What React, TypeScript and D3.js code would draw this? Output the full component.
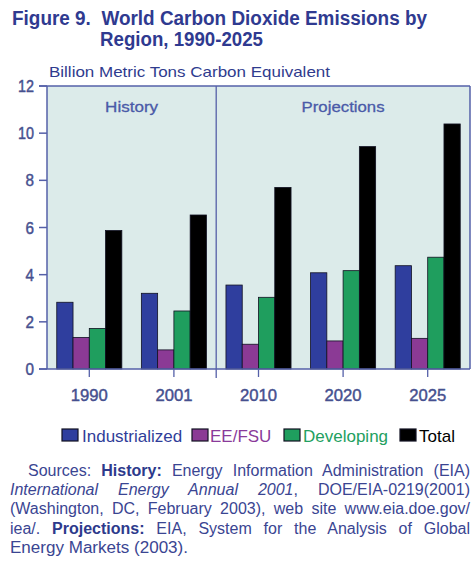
import React, { useEffect, useRef } from 'react';
import * as d3 from 'd3';

const years = ['1990', '2001', '2010', '2020', '2025'];
const seriesNames = ['Industrialized', 'EE/FSU', 'Developing', 'Total'];
const industrialized = [2.83, 3.21, 3.56, 4.08, 4.38];
const eeFsu = [1.34, 0.81, 1.05, 1.19, 1.3];
const developing = [1.72, 2.46, 3.04, 4.17, 4.74];
const total = [5.87, 6.53, 7.7, 9.43, 10.39];
const yTicks = [0, 2, 4, 6, 8, 10, 12];
const seriesColors = ['#2f3e9e', '#8b3a95', '#1f9e5e', '#000000'];
const legendTextColors = ['#2f3d99', '#8a3a9a', '#22a060', '#000000'];

const W = 473;
const H = 569;
const FONT = 'Liberation Sans, Arial, sans-serif';

export default function App() {
  const seriesValues = [industrialized, eeFsu, developing, total];
  const x = d3.scaleBand<string>().domain(years).range([47, 470]).padding(0);
  const xi = d3
    .scaleBand<string>()
    .domain(seriesNames)
    .range([0, x.bandwidth()])
    .paddingInner(0)
    .paddingOuter(0.6);
  const y = d3.scaleLinear().domain([0, 12]).range([369, 86]);

  const dividerX = x('2010')!;
  const axisColor = '#5560a8';
  const tickColor = '#46508f';

  const lineRefs = [useRef<SVGTextElement>(null), useRef<SVGTextElement>(null), useRef<SVGTextElement>(null), useRef<SVGTextElement>(null)];
  const targets = [442, 460, 460, 460];

  useEffect(() => {
    lineRefs.forEach((r, i) => {
      const el = r.current;
      if (!el) return;
      el.setAttribute('word-spacing', '0');
      const natural = el.getComputedTextLength();
      const spaces = (el.textContent || '').split(' ').length - 1;
      if (spaces > 0) {
        el.setAttribute('word-spacing', String((targets[i] - natural) / spaces));
      }
    });
  }, []);

  const legendItems = [
    { sx: 62, tx: 82 },
    { sx: 192, tx: 210 },
    { sx: 284, tx: 303 },
    { sx: 400, tx: 419 },
  ];

  const srcColor = '#3a4592';
  const srcSize = 16;

  return (
    <svg
      width={W}
      height={H}
      viewBox={`0 0 ${W} ${H}`}
      style={{ position: 'absolute', left: 0, top: 0, background: '#ffffff', fontFamily: FONT }}
    >
      {/* Title */}
      <text x={12} y={25} fontSize={20} fontWeight="bold" fill="#2f3a90" textLength={415} lengthAdjust="spacingAndGlyphs" style={{ whiteSpace: 'pre' }}>
        {'Figure 9.  World Carbon Dioxide Emissions by'}
      </text>
      <text x={100} y={46} fontSize={20} fontWeight="bold" fill="#2f3a90" textLength={163} lengthAdjust="spacingAndGlyphs">
        Region, 1990-2025
      </text>
      <text x={49} y={77} fontSize={15} fill="#2f3b8e" textLength={281} lengthAdjust="spacingAndGlyphs">
        Billion Metric Tons Carbon Equivalent
      </text>

      {/* Plot background */}
      <rect x={47} y={86} width={470 - 47} height={369 - 86} fill="#dcebea" />

      {/* Bars */}
      {years.map((yr, gi) => (
        <g key={yr} transform={`translate(${x(yr)},0)`}>
          {seriesNames.map((s, si) => {
            const v = seriesValues[si][gi];
            return (
              <rect
                key={s}
                x={xi(s)!}
                y={y(v)}
                width={xi.bandwidth()}
                height={y(0) - y(v)}
                fill={seriesColors[si]}
                stroke="#111122"
                strokeWidth={0.8}
              />
            );
          })}
        </g>
      ))}

      {/* Frame */}
      <line x1={39} x2={470} y1={y(12)} y2={y(12)} stroke={axisColor} strokeWidth={1.5} />
      <line x1={470} x2={470} y1={y(12)} y2={y(0)} stroke={axisColor} strokeWidth={1.5} />
      <line x1={47} x2={47} y1={y(12)} y2={y(0)} stroke={axisColor} strokeWidth={1.5} />
      <line x1={39} x2={470} y1={y(0)} y2={y(0)} stroke={axisColor} strokeWidth={1.5} />
      <line x1={dividerX} x2={dividerX} y1={y(12)} y2={378} stroke={axisColor} strokeWidth={1.3} />

      {/* Y ticks */}
      {yTicks.map((t) => (
        <g key={t}>
          <line x1={39} x2={47} y1={y(t)} y2={y(t)} stroke={axisColor} strokeWidth={1.5} />
          <text x={34} y={y(t) + 6} textAnchor="end" fontSize={16.5} fill={tickColor} stroke={tickColor} strokeWidth={0.45} textLength={t >= 10 ? 16 : 8.5} lengthAdjust="spacingAndGlyphs">
            {t}
          </text>
        </g>
      ))}

      {/* X ticks */}
      {years.map((yr) => {
        const cx = x(yr)! + x.bandwidth() / 2;
        return (
          <g key={yr}>
            <line x1={cx} x2={cx} y1={y(0)} y2={377} stroke={axisColor} strokeWidth={1.3} />
            <text x={cx} y={401} textAnchor="middle" fontSize={17} fill={tickColor} stroke={tickColor} strokeWidth={0.45} textLength={37} lengthAdjust="spacingAndGlyphs">
              {yr}
            </text>
          </g>
        );
      })}

      {/* Panel labels */}
      <text x={(47 + dividerX) / 2} y={112} textAnchor="middle" fontSize={15.5} fill="#4a5aa8" stroke="#4a5aa8" strokeWidth={0.3} textLength={53} lengthAdjust="spacingAndGlyphs">
        History
      </text>
      <text x={(dividerX + 470) / 2} y={112} textAnchor="middle" fontSize={15.5} fill="#4a5aa8" stroke="#4a5aa8" strokeWidth={0.3} textLength={83} lengthAdjust="spacingAndGlyphs">
        Projections
      </text>

      {/* Legend */}
      {seriesNames.map((s, i) => (
        <g key={s}>
          <rect x={legendItems[i].sx} y={429} width={16} height={12} fill={seriesColors[i]} stroke="#111122" strokeWidth={1.2} />
          <text x={legendItems[i].tx} y={442} fontSize={17} fill={legendTextColors[i]}>
            {s}
          </text>
        </g>
      ))}

      {/* Sources */}
      <text ref={lineRefs[0]} x={28} y={476} fontSize={srcSize} fill={srcColor}>
        <tspan>Sources: </tspan>
        <tspan fontWeight="bold" fill="#2d3a8c">History:</tspan>
        <tspan> Energy Information Administration (EIA)</tspan>
      </text>
      <text ref={lineRefs[1]} x={10} y={495} fontSize={srcSize} fill={srcColor}>
        <tspan fontStyle="italic">International Energy Annual 2001</tspan>
        <tspan>, DOE/EIA-0219(2001)</tspan>
      </text>
      <text ref={lineRefs[2]} x={10} y={514} fontSize={srcSize} fill={srcColor}>
        (Washington, DC, February 2003), web site www.eia.doe.gov/
      </text>
      <text ref={lineRefs[3]} x={10} y={534} fontSize={srcSize} fill={srcColor}>
        <tspan>iea/. </tspan>
        <tspan fontWeight="bold" fill="#2d3a8c">Projections:</tspan>
        <tspan> EIA, System for the Analysis of Global</tspan>
      </text>
      <text x={10} y={553} fontSize={srcSize} fill={srcColor} textLength={178} lengthAdjust="spacingAndGlyphs">
        Energy Markets (2003).
      </text>
    </svg>
  );
}
